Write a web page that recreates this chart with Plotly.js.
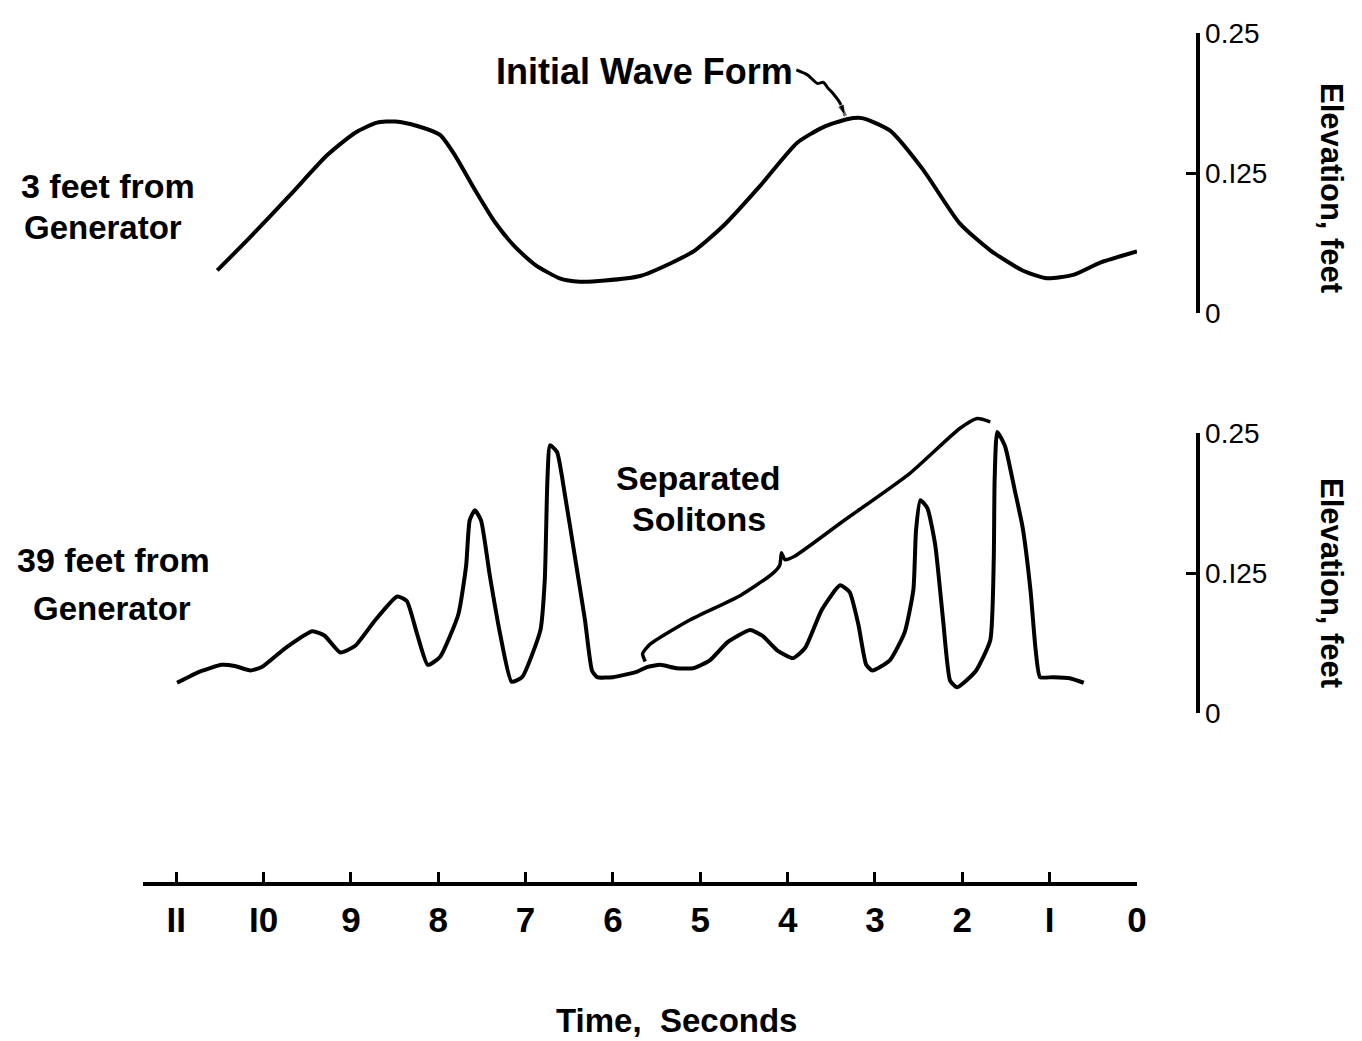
<!DOCTYPE html>
<html>
<head>
<meta charset="utf-8">
<script src="https://cdn.plot.ly/plotly-3.0.1.min.js"></script>
<style>html,body{margin:0;padding:0;background:#fff;}#chart{width:1362px;height:1041px;}</style>
</head>
<body>
<div id="chart"></div>
<script>
// ---- Data (time in seconds, elevation in feet) ----
const timeTicks = [0,1,2,3,4,5,6,7,8,9,10,11];
const timeTickLabels = ["0","I","2","3","4","5","6","7","8","9","I0","II"];
const elevTicks = [0, 0.125, 0.25];
const elevTickLabels = ["0", "0.I25", "0.25"];

// 3 feet from generator (initial wave form)
const t3 = [10.53,10.15,9.70,9.27,8.95,8.70,8.49,8.24,7.98,7.81,7.58,7.35,7.12,6.89,6.61,6.38,6.09,5.69,5.35,5.06,4.72,4.32,3.89,3.59,3.32,3.15,2.83,2.45,2.03,1.68,1.31,1.03,0.73,0.42,0.00];
const e3 = [0.038,0.068,0.105,0.141,0.161,0.170,0.171,0.167,0.159,0.141,0.110,0.081,0.059,0.043,0.031,0.028,0.029,0.033,0.044,0.056,0.079,0.113,0.152,0.166,0.173,0.174,0.163,0.128,0.080,0.056,0.038,0.031,0.034,0.045,0.055];

// 39 feet from generator (separated solitons)
const t39 = [10.99,10.73,10.48,10.33,10.15,10.02,9.75,9.44,9.30,9.12,8.95,8.72,8.47,8.36,8.24,8.12,7.98,7.77,7.68,7.64,7.58,7.51,7.41,7.29,7.16,7.04,6.83,6.78,6.75,6.72,6.64,6.55,6.43,6.32,6.24,6.18,6.00,5.72,5.61,5.46,5.27,5.08,4.89,4.69,4.43,4.29,4.12,3.94,3.80,3.61,3.40,3.29,3.19,3.10,3.03,2.83,2.66,2.56,2.53,2.48,2.40,2.31,2.22,2.14,2.06,1.85,1.68,1.64,1.63,1.60,1.51,1.40,1.31,1.22,1.16,1.11,0.96,0.77,0.61];
const e39 = [0.027,0.037,0.043,0.042,0.038,0.041,0.058,0.073,0.069,0.054,0.060,0.083,0.104,0.100,0.070,0.043,0.050,0.088,0.132,0.172,0.181,0.172,0.123,0.070,0.028,0.032,0.074,0.119,0.208,0.239,0.233,0.195,0.137,0.083,0.038,0.032,0.032,0.037,0.041,0.043,0.040,0.040,0.047,0.063,0.074,0.069,0.056,0.049,0.058,0.092,0.114,0.108,0.079,0.043,0.038,0.047,0.072,0.110,0.163,0.190,0.183,0.150,0.083,0.029,0.023,0.037,0.065,0.137,0.208,0.251,0.238,0.199,0.166,0.110,0.056,0.032,0.032,0.031,0.027];

// Brace pointing at the separated solitons (bottom panel units)
const braceT = [5.63,5.66,5.58,5.12,4.54,4.18,4.09,4.07,4.03,3.92,3.37,2.60,2.03,1.83,1.68];
const braceE = [0.046,0.053,0.061,0.083,0.105,0.124,0.132,0.143,0.137,0.140,0.171,0.214,0.254,0.263,0.260];

// Squiggly pointer from "Initial Wave Form" (top panel units)
const pointerT = [3.90,3.77,3.66,3.59,3.54,3.48,3.40,3.34];
const pointerE = [0.217,0.2125,0.205,0.206,0.201,0.196,0.1875,0.176];

// ---- Layout helpers (pixel -> paper) ----
const W = 1362, H = 1041;
const px = x => x / W;
const py = y => 1 - y / H;
const FONT = "Liberation Sans, Arial, sans-serif";
const BLACK = "#000";

const traces = [
  {x: t3, y: e3, xaxis: "x", yaxis: "y", mode: "lines", line: {color: BLACK, width: 4, shape: "spline", smoothing: 0.6}, hoverinfo: "skip"},
  {x: t39, y: e39, xaxis: "x", yaxis: "y2", mode: "lines", line: {color: BLACK, width: 4, shape: "spline", smoothing: 0.5}, hoverinfo: "skip"},
  {x: braceT, y: braceE, xaxis: "x", yaxis: "y2", mode: "lines", line: {color: BLACK, width: 3.5, shape: "spline", smoothing: 0.6}, hoverinfo: "skip"},
  {x: pointerT, y: pointerE, xaxis: "x", yaxis: "y", mode: "lines+markers", line: {color: BLACK, width: 3, shape: "spline", smoothing: 0.6},
   marker: {symbol: "arrow", angleref: "previous", size: pointerT.map((v, i) => i === pointerT.length - 1 ? 12 : 0), color: BLACK}, hoverinfo: "skip"},
  // empty traces so the two display axes are drawn
  {x: [], y: [], xaxis: "x", yaxis: "y3", mode: "lines", hoverinfo: "skip"},
  {x: [], y: [], xaxis: "x", yaxis: "y4", mode: "lines", hoverinfo: "skip"}
];

const hiddenY = {visible: false, showgrid: false, zeroline: false, fixedrange: true};
const shownY = {
  showgrid: false, zeroline: false, showline: true, linecolor: BLACK, linewidth: 3.5,
  ticks: "inside", ticklen: 10, tickwidth: 3, tickcolor: BLACK,
  tickvals: elevTicks, ticktext: elevTickLabels, range: [0, 0.25],
  tickfont: {family: FONT, size: 28, color: BLACK},
  side: "right", anchor: "free", position: px(1197), ticklabelstandoff: 0
};

const ann = (text, x, y, size, extra) => Object.assign({
  text: text, x: px(x), y: py(y), xref: "paper", yref: "paper",
  showarrow: false, xanchor: "center", yanchor: "middle",
  font: {family: FONT, size: size, color: BLACK}
}, extra || {});

const layout = {
  width: W, height: H,
  margin: {l: 0, r: 0, t: 0, b: 0},
  paper_bgcolor: "#fff", plot_bgcolor: "rgba(0,0,0,0)",
  showlegend: false,
  xaxis: {
    domain: [px(143), px(1137)], range: [11.38, 0],
    anchor: "free", position: py(883),
    showgrid: false, zeroline: false, showline: true, linecolor: BLACK, linewidth: 3.5,
    ticks: "inside", ticklen: 10, tickwidth: 3, tickcolor: BLACK,
    tickvals: timeTicks, ticktext: timeTickLabels.map(s => "<b>" + s + "</b>"),
    tickfont: {family: FONT, size: 35, color: BLACK},
    ticklabelstandoff: 4
  },
  yaxis: Object.assign({}, hiddenY, {domain: [py(340), py(0)], range: [-(340 - 313) / 1120, 0.25 + 33 / 1120]}),
  yaxis2: Object.assign({}, hiddenY, {domain: [py(760), py(380)], range: [-(760 - 713) / 1120, (713 - 380) / 1120]}),
  yaxis3: Object.assign({}, shownY, {domain: [py(313), py(33)]}),
  yaxis4: Object.assign({}, shownY, {domain: [py(713), py(433)]}),
  annotations: [
    ann("<b>Initial Wave Form</b>", 644, 72, 36),
    ann("<b>3 feet from</b>", 108, 186, 34),
    ann("<b>Generator</b>", 103, 227, 33),
    ann("<b>39 feet from</b>", 113, 560, 34),
    ann("<b>Generator</b>", 112, 608, 33),
    ann("<b>Separated</b>", 698, 478, 34),
    ann("<b>Solitons</b>", 699, 519, 34),
    ann("<b>Time,  Seconds</b>", 676, 1020, 33),
    ann("<b>Elevation, feet</b>", 1332, 188, 31, {textangle: 90}),
    ann("<b>Elevation, feet</b>", 1332, 583, 31, {textangle: 90})
  ]
};

Plotly.newPlot("chart", traces, layout, {staticPlot: true, displayModeBar: false});
</script>
</body>
</html>
